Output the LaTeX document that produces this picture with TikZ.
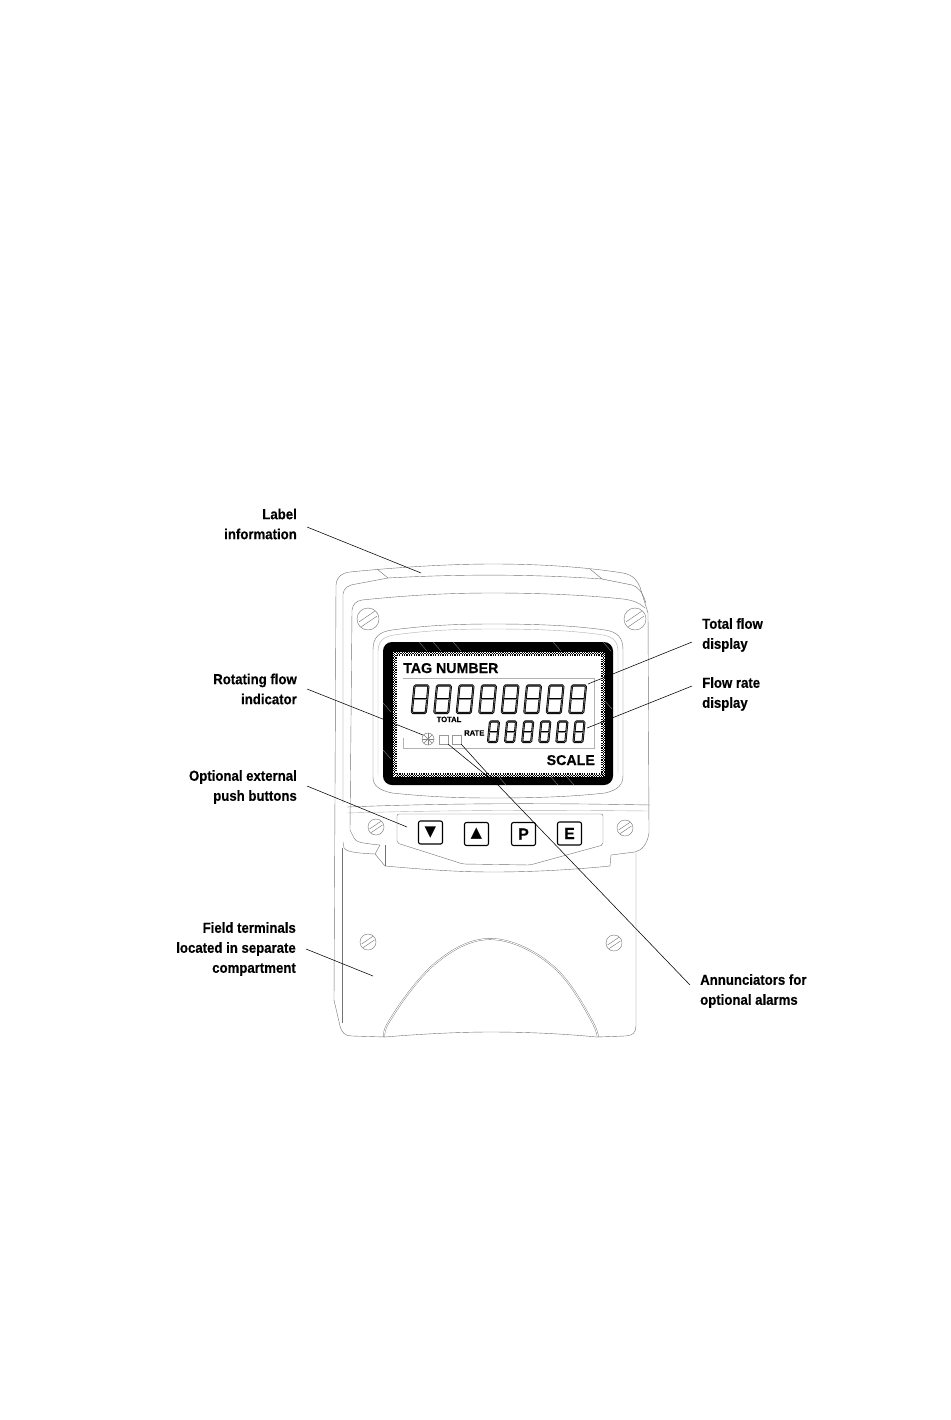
\documentclass[tikz,border=0pt]{standalone}
\usepackage{fontspec}
\setmainfont{Liberation Sans}[BoldFeatures={FakeBold=0.25}]
\newfontfamily\calloutfont[FakeStretch=0.91,BoldFeatures={FakeBold=0.35}]{Liberation Sans}
\newfontfamily\glyphfont{DejaVu Sans}
\tikzset{
	>=latex,
}
\newcommand{\segdigit}[4]{
	\begin{scope}[shift={(#1,#2)},xslant=0.1]
		\draw[segline] (0,0) rectangle (#3,#4);
		\draw[segline] (0.5,#4/2) -- (#3-0.5,#4/2);
		\draw[segcore] (0,0) rectangle (#3,#4);
		\draw[segcore] (0.5,#4/2) -- (#3-0.5,#4/2);
	\end{scope}
}
\newcommand{\slotscrew}[3]{
	\draw[bodyline,fill=white] (#1,#2) circle[radius=#3];
	\draw[bodyline] (#1-#3*0.8,#2+#3*0.25) -- (#1+#3*0.6,#2-#3*0.7);
	\draw[bodyline] (#1-#3*0.6,#2+#3*0.7) -- (#1+#3*0.8,#2-#3*0.25);
}

\begin{document}
\begin{tikzpicture}[x=1pt,y=-1pt,
		bodyline/.style={draw=black!55, line width=0.4pt},
		paleline/.style={draw=black!30, line width=0.4pt},
		segline/.style={draw=black, line width=2.1pt, rounded corners=1.2pt},
		segcore/.style={draw=black!45, line width=0.45pt, rounded corners=1.2pt},
		dither/.style={line width=1.2pt, dash pattern=on 1.2pt off 1.2pt},
		leader/.style={draw=black, line width=0.55pt},
		calloutl/.style={font=\calloutfont\fontsize{14.5}{20}\selectfont\bfseries, align=right, anchor=east, inner xsep=10pt, inner ysep=0pt},
		calloutr/.style={calloutl, align=left, anchor=west},
		lcdtext/.style={font=\fontsize{14.2}{16}\selectfont\bfseries, inner sep=0pt, anchor=base west},
		lcdsmall/.style={font=\fontsize{7.6}{9}\selectfont\bfseries, inner sep=0pt, anchor=base west},
		keybtn/.style={draw=black, line width=1.1pt, rounded corners=2pt, minimum width=24pt, minimum height=23pt, inner sep=0pt, font=\fontsize{16}{16}\selectfont\bfseries},
		annbox/.style={draw=black!40, line width=0.4pt, minimum size=9pt, inner sep=0pt},
	]
	\useasboundingbox (0,0) rectangle (950,1420);
	\fill[white] (0,0) rectangle (950,1420);

	\draw[bodyline] (334,1000) -- (336,585) .. controls (337,576) and (342,573) .. (350,572) .. controls (400,567) and (450,564) .. (493,564) .. controls (540,564) and (585,567) .. (623,573) .. controls (633,575) and (637,580) .. (640,587) -- (648,613) -- (649,833);
	\draw[bodyline] (334,1000) -- (340,1026) .. controls (342,1033) and (345,1036) .. (352,1036) -- (385,1037) .. controls (420,1034) and (460,1032) .. (490,1032) .. controls (530,1032) and (565,1034) .. (597,1037) -- (625,1036) .. controls (632,1036) and (636,1033) .. (636,1026) -- (636,853);
	\draw[bodyline] (342,1023) -- (342,848);
	\draw[bodyline] (377,569) -- (388,578) .. controls (460,574) and (530,574) .. (602,579) -- (590,569);
	\draw[bodyline] (343,803) -- (343,594) .. controls (344,588) and (348,585) .. (356,584) -- (388,578);
	\draw[bodyline] (602,579) -- (632,585) .. controls (638,587) and (642,591) .. (646,603);
	\draw[bodyline] (350,830) -- (352,610) .. controls (353,604) and (356,601) .. (362,600) .. controls (420,594) and (460,593) .. (493,593) .. controls (540,593) and (585,595) .. (623,599) .. controls (632,600) and (640,603) .. (645,608);

	\draw[bodyline] (347,807) .. controls (450,803) and (550,803) .. (650,805);
	\draw[paleline] (347,813) .. controls (450,810) and (550,810) .. (649,811);
	\draw[bodyline] (350,830) -- (354,838) .. controls (356,842) and (360,843) .. (380,845) -- (375,854) -- (385,866) .. controls (430,870) and (460,872) .. (493,872) .. controls (530,872) and (570,870) .. (610,866) -- (611,855) -- (635,852) .. controls (642,850) and (647,845) .. (649,833);
	\draw[bodyline] (343,842) -- (344,848) .. controls (346,851) and (352,853) .. (375,854);
	\draw[bodyline] (385,845) -- (385,866);
	\draw[bodyline,rounded corners=2pt] (397,814) -- (603,814) -- (603,845) -- (530,865) -- (463,864) -- (397,843) -- cycle;

	\draw[bodyline] (373,777) -- (373,650) .. controls (373,638) and (378,632) .. (392,630) .. controls (430,625) and (460,624) .. (493,624) .. controls (530,624) and (570,625) .. (605,630) .. controls (618,632) and (623,638) .. (623,650) -- (623,775) .. controls (623,785) and (618,790) .. (605,793) .. controls (570,797) and (530,798) .. (493,798) .. controls (460,798) and (430,797) .. (392,793) .. controls (378,790) and (373,785) .. (373,777);
	\draw[paleline] (378,775) -- (378,652) .. controls (378,642) and (382,637) .. (394,635) .. controls (430,630) and (460,629) .. (493,629) .. controls (530,629) and (570,630) .. (603,635) .. controls (614,637) and (618,642) .. (618,652) -- (618,773);

	\slotscrew{368}{619}{11}
	\slotscrew{635}{619}{11}
	\slotscrew{376}{827}{8}
	\slotscrew{625}{828}{8}
	\slotscrew{368}{942}{8}
	\slotscrew{614}{943}{8}

	\draw[bodyline,double=white,double distance=0.9pt] (384,1037) .. controls (384,1032) and (385,1029) .. (387,1025) .. controls (400,1003) and (415,983) .. (430,968) .. controls (450,950) and (470,939) .. (490,939) .. controls (512,939) and (538,952) .. (557,970) .. controls (572,985) and (582,1003) .. (593,1023) .. controls (596,1029) and (597,1032) .. (598,1037);

	\fill[black,rounded corners=9pt] (383,642) rectangle (613,785);
	\fill[white] (393,652) rectangle (605,777);
	\foreach \fx/\fy in {419/642,433/642,453/642,553/642,603/642,383/703,383/750,498/776,550/776,566/776,604/700}{
		\draw[black!35,line width=0.25pt] (\fx,\fy) -- ++(8,9);
	}
	\draw[dither] (393.6,652.6) rectangle (604.4,776.4);
	\draw[dither] (394.8,653.8) rectangle (603.2,775.2);
	\draw[dither] (396,655) rectangle (602,774);

	\node(tagtext)[lcdtext] at (403,673) {TAG NUMBER};
	\node(scaletext)[lcdtext,anchor=base east] at (595,765) {SCALE};
	\node(totaltext)[lcdsmall] at (436.5,722) {TOTAL};
	\node(ratetext)[lcdsmall] at (464,735.5) {RATE};
	\draw[paleline] (403,738) -- (403,748) -- (594,748) -- (594,678) -- (403,678);

	\foreach \i in {0,...,7}{
		\segdigit{414.5+22.5*\i}{685.5}{14}{27.5}
	}
	\foreach \i in {0,...,5}{
		\segdigit{490+17.1*\i}{721.5}{9}{20.5}
	}

	\foreach \a in {0,45,...,315}{
		\draw[black!50,line width=0.6pt] (428,739) -- ++(\a:6);
	}
	\draw[black!50,line width=0.5pt] (428,739) circle[radius=6];
	\node(annone)[annbox] at (443.5,739.5) {};
	\node(anntwo)[annbox] at (456.5,739.5) {};

	\node(downbtn)[keybtn] at (430.5,832.5) {\glyphfont\fontsize{15}{15}\selectfont ▼};
	\node(upbtn)[keybtn] at (476.5,834) {\glyphfont\fontsize{15}{15}\selectfont ▲};
	\node(pbtn)[keybtn] at (523.5,834) {P};
	\node(ebtn)[keybtn] at (569.5,833.5) {E};

	\node(labelinfo)[calloutl] at (307,524) {Label\\information};
	\node(rotflow)[calloutl] at (307,689) {Rotating flow\\indicator};
	\node(pushbtn)[calloutl] at (307,787) {Optional external\\push buttons};
	\node(fieldterm)[calloutl] at (306,949) {Field terminals\\located in separate\\compartment};
	\node(totflow)[calloutr] at (692,635) {Total flow\\display};
	\node(rateflow)[calloutr] at (692,694) {Flow rate\\display};
	\node(annalarm)[calloutr] at (690,991) {Annunciators for\\optional alarms};

	\coordinate (labelend) at (421,573);
	\coordinate (rotend) at (423,735);
	\coordinate (pushend) at (407,827);
	\coordinate (fieldend) at (373,976);
	\coordinate (totend) at (588,684);
	\coordinate (rateend) at (587,728);
	\coordinate (annjoin) at (498,785);

	\draw[leader] ([yshift=-3pt]labelinfo.east) -- (labelend);
	\draw[leader] (rotflow.east) -- (rotend);
	\draw[leader] ([yshift=1pt]pushbtn.east) -- (pushend);
	\draw[leader] (fieldterm.east) -- (fieldend);
	\draw[leader] ([yshift=-7pt]totflow.west) -- (totend);
	\draw[leader] ([yshift=8pt]rateflow.west) -- (rateend);
	\draw[leader] ([yshift=6pt]annalarm.west) -- (annjoin);
	\draw[leader] (annjoin) -- (annone.south east);
	\draw[leader] (annjoin) -- (anntwo.south east);
\end{tikzpicture}
\end{document}
